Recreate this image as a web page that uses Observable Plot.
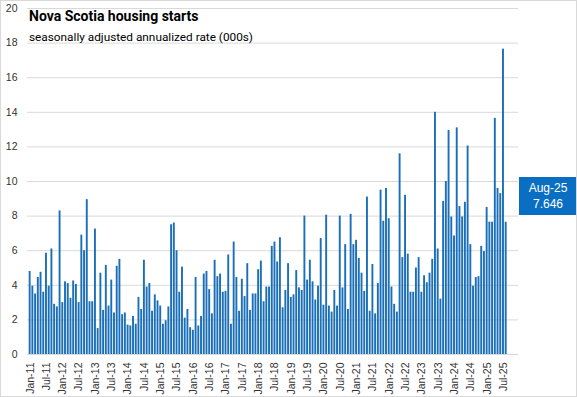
<!DOCTYPE html>
<html>
<head>
<meta charset="utf-8">
<script src="https://cdn.jsdelivr.net/npm/d3@7"></script>
<script src="https://cdn.jsdelivr.net/npm/@observablehq/plot@0.6"></script>
<style>
  html, body { margin: 0; padding: 0; background: #fff; }
  #wrap { position: relative; width: 577px; height: 397px; overflow: hidden; }
  #frame { position: absolute; left: 0; top: 0; width: 577px; height: 397px; box-sizing: border-box; border: 1px solid #d9d9d9; pointer-events: none; }
  #title { position: absolute; left: 29px; top: 8px; font-family: Roboto, "Liberation Sans", sans-serif; font-weight: 700; font-size: 14px; letter-spacing: 0px; color: #000; white-space: nowrap; }
  #subtitle { position: absolute; left: 29px; top: 30px; font-family: Roboto, "Liberation Sans", sans-serif; font-size: 11.8px; color: #000; white-space: nowrap; }
  #callout { position: absolute; left: 519px; top: 177px; width: 58px; height: 38px; background: #0a6fc2; color: #fff; font-family: "Liberation Sans", Arial, sans-serif; font-size: 12px; line-height: 16px; text-align: center; padding-top: 3px; box-sizing: border-box; }
</style>
</head>
<body>
<div id="wrap">
  <div id="chart"></div>
  <div id="title">Nova Scotia housing starts</div>
  <div id="subtitle">seasonally adjusted annualized rate (000s)</div>
  <div id="callout"><div id="callout-label"></div><div id="callout-value"></div></div>
  <div id="frame"></div>
</div>
<script>
const monthNames = ["Jan","Feb","Mar","Apr","May","Jun","Jul","Aug","Sep","Oct","Nov","Dec"];
const years = ["11","12","13","14","15","16","17","18","19","20","21","22","23","24","25"];
const lastLabel = "Aug-25";

const values = [
  4.8, 3.95, 3.5, 4.45, 4.75, 3.6, 5.85, 3.95, 6.1, 2.9, 2.75, 8.3,
  3.0, 4.2, 4.1, 3.25, 4.25, 4.05, 3.0, 6.9, 6.0, 8.95, 3.05, 3.05,
  7.25, 1.5, 4.7, 2.55, 5.15, 2.8, 4.3, 2.4, 5.1, 5.5, 2.3, 2.4,
  1.7, 1.65, 2.2, 1.75, 3.3, 2.6, 5.45, 3.9, 4.1, 2.5, 3.45, 3.1,
  2.8, 1.75, 1.95, 2.75, 7.5, 7.6, 6.0, 3.6, 5.05, 2.1, 2.6, 1.55,
  1.4, 4.45, 1.65, 2.2, 4.65, 4.8, 3.75, 2.35, 5.45, 4.5, 4.65, 3.6,
  3.65, 5.75, 1.75, 6.5, 4.45, 2.5, 4.35, 3.35, 5.25, 2.55, 3.5, 3.5,
  4.9, 5.4, 3.05, 3.9, 3.9, 6.25, 6.5, 5.35, 6.75, 2.7, 3.7, 5.25,
  3.3, 3.45, 4.85, 3.85, 3.7, 8.0, 4.3, 5.45, 4.2, 3.15, 3.95, 6.7,
  2.85, 8.05, 2.8, 2.45, 3.7, 2.8, 8.0, 3.85, 6.35, 2.6, 8.1, 6.35,
  6.6, 5.55, 4.7, 3.65, 9.1, 2.5, 5.2, 2.35, 4.1, 9.5, 7.7, 9.6,
  7.85, 3.9, 2.9, 2.45, 11.6, 5.6, 9.2, 5.8, 3.6, 3.6, 5.0, 5.6,
  3.6, 4.55, 4.15, 4.7, 5.5, 14.0, 6.1, 3.2, 8.85, 10.0, 12.95, 7.95,
  6.85, 13.1, 8.55, 7.95, 8.8, 12.05, 6.35, 3.95, 4.45, 4.5, 6.25, 5.95,
  8.5, 7.65, 7.65, 13.65, 9.6, 9.3, 17.65, 7.646
];

const yTicks = [0, 2, 4, 6, 8, 10, 12, 14, 16, 18, 20];

// month labels "Jan-11" ... "Aug-25"
const labels = [];
for (const y of years) for (const m of monthNames) labels.push(`${m}-${y}`);
labels.length = labels.indexOf(lastLabel) + 1;
const tickLabels = labels.filter(l => l.startsWith("Jan") || l.startsWith("Jul"));

const data = labels.map((month, i) => ({month, value: values[i]}));

const chart = Plot.plot({
  width: 577,
  height: 397,
  marginLeft: 27,
  marginRight: 59,
  marginTop: 8,
  marginBottom: 43,
  style: {fontFamily: "'Liberation Sans', Arial, sans-serif", fontSize: "10.5px", color: "#333", background: "transparent"},
  x: {type: "band", domain: labels, paddingInner: 0.3, paddingOuter: 2.4, align: 0.13, label: null},
  y: {domain: [0, 20], label: null},
  marks: [
    Plot.gridY(yTicks, {stroke: "#d9d9d9", strokeOpacity: 1}),
    Plot.barY(data, {x: "month", y: "value", fill: "#1b6fb8"}),
    Plot.axisY({ticks: yTicks, tickSize: 0, tickPadding: 10, label: null}),
    Plot.axisX({ticks: tickLabels, tickSize: 0, tickRotate: -90, tickPadding: 8, label: null})
  ]
});
document.getElementById("chart").appendChild(chart);

const last = data[data.length - 1];
document.getElementById("callout-label").textContent = last.month;
document.getElementById("callout-value").textContent = String(last.value);
</script>
</body>
</html>
